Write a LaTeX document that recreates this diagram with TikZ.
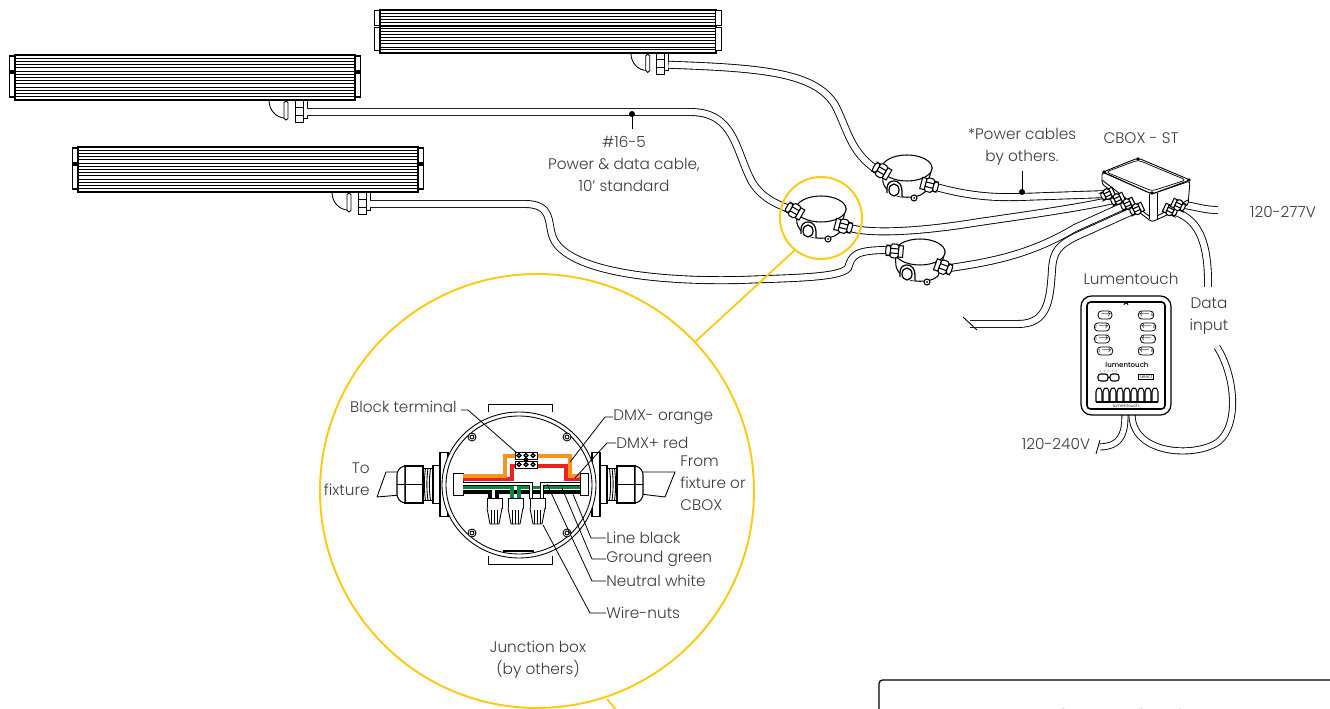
\documentclass[tikz,border=0pt]{standalone}
\usepackage{fontspec}
\setmainfont{Poppins}[UprightFont=* Light,BoldFont=* Medium]
\definecolor{lampyellow}{HTML}{FDC913}
\definecolor{wireorange}{HTML}{F7941D}
\definecolor{wirered}{HTML}{ED2024}
\definecolor{wiregreen}{HTML}{0B8A3E}
\definecolor{textgray}{HTML}{3A3A3A}
\tikzset{
  lbl/.style={text=textgray,inner sep=0pt,font=\fontsize{8.7}{12.4}\selectfont},
  cable/.style={draw,line width=.5pt,double=white,double distance=3.5pt},
  thin line/.style={line width=.5pt},
  leader/.style={line width=.45pt},
  wire/.style={line width=1.8pt,preaction={draw=white,line width=2.8pt}},
  keybtn/.style={draw,line width=.45pt,rounded corners=2,minimum width=7.5pt,minimum height=4.6pt,inner sep=0pt,font=\fontsize{2.5}{3}\selectfont},
  gland/.pic={
    \draw[line width=.6pt,fill=white] (-7,-5) rectangle (-3,5);
    \draw[line width=.6pt,fill=white,rounded corners=1] (-3,-6) rectangle (4,6);
    \draw[line width=.6pt] (-3,-2) -- (4,-2) (-3,2) -- (4,2);
    \draw[line width=.6pt,fill=white,rounded corners=1.5] (4,-4.5) rectangle (8,4.5);
  },
  bigend/.pic={
    \draw[line width=.6pt,fill=white] (0,-32) rectangle (-8,32);
    \draw[line width=.6pt,fill=white] (-8,-19) rectangle (-15,19);
    \draw[line width=.6pt,fill=white] (-15,-16) rectangle (-25,16);
    \foreach \x in {-17.5,-20,-22.5}
      \draw[thin line] (\x,-16) .. controls (\x-1.5,-5) and (\x-1.5,5) .. (\x,16);
    \draw[line width=.6pt,fill=white] (-25,-18.5) rectangle (-43,18.5);
    \draw[line width=.6pt,fill=white] (-43,-18.5) .. controls (-49,-18) and (-51,-12) .. (-51,-10) -- (-51,10) .. controls (-51,12) and (-49,18) .. (-43,18.5) -- cycle;
    \draw[thin line] (-25,0) -- (-51,0);
  },
  jbox/.pic={
    \draw[line width=.6pt,fill=white] (-25,0) -- (-24,14) .. controls (-22,24) and (-10,29) .. (-4,29) .. controls (6,30) and (14,28) .. (18,24) -- (25,0) -- cycle;
    \draw[line width=.6pt,fill=white] (0,0) ellipse (25 and 13);
    \draw[line width=.7pt,fill=white] (-20,25) .. controls (-21,14) and (-16,13) .. (-13,13) .. controls (-9,13) and (-4,15) .. (-5,29);
    \draw[line width=.7pt,fill=white] (-13,22) ellipse (5 and 6);
    \draw[line width=.6pt,fill=white] (7,30) circle (3);
    \fill (7,30) circle (1);
  },
  fixture/.pic={
    \draw[line width=.8pt,fill=white] (0,0) rectangle (340,45);
    \foreach \y in {3.2,6.4,...,38.5}
      \draw[line width=.35pt] (0,\y) -- (340,\y);
    \draw[line width=.8pt] (0,16.5) -- (340,16.5);
    \draw[line width=.6pt] (0,41.5) -- (340,41.5);
    \foreach \x in {-5.5,340} {
      \draw[line width=.6pt,fill=white] (\x,1) rectangle ++(5.5,15);
      \draw[line width=.6pt,fill=white] (\x,18) rectangle ++(5.5,24);
    }
    \draw[thin line] (254,45) .. controls (254,56) and (262,63) .. (270,63);
    \draw[thin line,fill=white,rounded corners=1] (269,46) rectangle (273,65);
    \draw[thin line,fill=white] (280,45) rectangle (288,67);
    \draw[thin line] (280,52) -- (288,52) (280,60) -- (288,60);
    \draw[thin line,fill=white] (288,45) rectangle (292,63);
    \coordinate (-out) at (292,57);
  },
}
\begin{document}
\begin{tikzpicture}[x=.02cm,y=-.02cm]
  \useasboundingbox (0,0) rectangle (1330,709);

  % fixtures
  \pic[xscale=.988,yscale=.96] (fixa) at (380,10) {fixture};
  \pic (fixb) at (15,55) {fixture};
  \pic (fixc) at (78,147) {fixture};

  \coordinate (boxaleft) at (790,209);
  \coordinate (boxaright) at (850,228);
  \coordinate (boxbleft) at (877,170);
  \coordinate (boxbright) at (936,187);
  \coordinate (boxcleft) at (889,250);
  \coordinate (boxcright) at (950,268);
  \coordinate (cboxa) at (1108,194);
  \coordinate (cboxb) at (1118,199);
  \coordinate (cboxc) at (1128,204);
  \coordinate (cboxd) at (1137,209);
  \coordinate (cboxe) at (1170,210);
  \coordinate (cboxf) at (1178,205);

  % cables
  \draw[cable] (fixa-out) .. controls (760,68) and (815,72) .. (835,105) .. controls (848,130) and (850,152) .. (boxbleft);
  \draw[cable] (fixb-out) -- (690,112) .. controls (735,112) and (735,150) .. (752,182) .. controls (760,195) and (772,203) .. (boxaleft);
  \draw[cable] (fixc-out) -- (525,204) .. controls (552,204) and (548,222) .. (552,235) .. controls (562,270) and (650,282) .. (740,280) .. controls (790,278) and (840,278) .. (848,268) .. controls (852,255) and (855,250) .. (boxcleft);
  \draw[cable] (boxbright) .. controls (965,195) and (990,198) .. (1020,197) -- (cboxa);
  \draw[cable] (boxaright) .. controls (875,235) and (930,230) .. (973,223) .. controls (1020,216) and (1080,208) .. (cboxb);
  \draw[cable] (boxcright) .. controls (990,262) and (1030,255) .. (1075,228) -- (cboxc);
  \coordinate (freeend) at (970,324);
  \draw[cable] (freeend) -- (1018,324) .. controls (1048,324) and (1050,300) .. (1052,270) .. controls (1053,250) and (1060,245) .. (1075,237) -- (cboxd);
  \draw[thin line] (963,317) -- (977,330);
  \coordinate (mainsend) at (1218,210);
  \draw[cable] (cboxf) .. controls (1190,204) and (1200,210) .. (mainsend);
  \coordinate (dataend) at (1208,287);
  \draw[cable] (cboxe) .. controls (1190,216) and (1209,228) .. (dataend);

  % junction boxes
  \pic at (821,209) {jbox};
  \pic at (907,168) {jbox};
  \pic at (920,252) {jbox};
  \pic[rotate=150,scale=1.15] at (795,211) {gland};
  \pic[rotate=-15,scale=1.15] at (843,226) {gland};
  \pic[rotate=150,scale=1.15] at (882,171) {gland};
  \pic[rotate=-15,scale=1.15] at (929,185) {gland};
  \pic[rotate=175,scale=1.15] at (895,251) {gland};
  \pic[rotate=-20,scale=1.15] at (943,267) {gland};

  % CBOX
  \draw[thin line,fill=white,rounded corners=1.5] (1102,172) -- (1102,184) -- (1152,222) -- (1188,205) -- (1190,181) -- (1152,194) -- cycle;
  \draw[thin line] (1102,180) -- (1149,216) (1157,216) -- (1188,200);
  \draw[thin line,fill=white,rounded corners=2] (1103,172) -- (1138,158) -- (1190,180) -- (1152,194) -- cycle;
  \draw[line width=.4pt,rounded corners=2] (1106,172) -- (1138,160) -- (1186,180) -- (1152,191) -- cycle;
  \draw[thin line] (1149,194) -- (1149,219) (1157,193) -- (1157,219);
  \foreach \x/\y in {1104/172,1138/159,1189/180,1152/193}
    \fill (\x,\y) circle (1.8);
  \foreach \p in {cboxa,cboxb,cboxc,cboxd}
    \pic[rotate=205,scale=.9] at (\p) {gland};
  \pic[rotate=-25,scale=.9] at (cboxe) {gland};
  \pic[rotate=-25,scale=.9] at (cboxf) {gland};

  % lumentouch
  \coordinate (powerend) at (1100,447);
  \draw[cable,double distance=3pt] (1125,412) .. controls (1125,430) and (1124,446) .. (powerend);
  \draw[thin line] (1096,454) -- (1100,440);
  \coordinate (datastart) at (1217,347);
  \draw[cable,double distance=3pt] (datastart) .. controls (1235,375) and (1240,425) .. (1218,442) .. controls (1195,458) and (1130,455) .. (1132,412);
  \draw[line width=.7pt,fill=white,rounded corners=6] (1081,296) rectangle (1171,415);
  \draw[line width=.9pt,rounded corners=2] (1087,302) rectangle (1165,409);
  \draw[thin line] (1124,305) arc (180:360:2);
  \foreach \n/\x/\y in {1/1105/315,2/1102/327,3/1102/339,4/1105/351}
    \node[keybtn] (btn\n) at (\x,\y) {\n\,$\to$};
  \foreach \n/\x/\y in {5/1146/315,6/1148/327,7/1148/339,8/1146/351}
    \node[keybtn] (btn\n) at (\x,\y) {$\gets$\,\n};
  \node[inner sep=0pt,font=\bfseries\fontsize{4}{4}\selectfont] (wordmark) at (1127,364.5) {lumentouch};
  \foreach \x in {1100,1104,...,1116}
    \fill (\x,371) circle (.5);
  \draw[line width=.6pt,rounded corners=1.5] (1098,374) rectangle (1108,381) (1110,374) rectangle (1119,381);
  \draw[thin line] (1108,377.5) -- (1110,377.5);
  \node[draw,line width=.5pt,inner sep=.7pt,font=\fontsize{2.5}{3}\selectfont] (selectkey) at (1146,377) {select};
  \foreach \x in {1096,1103,...,1152}
    \draw[line width=.6pt,fill=white,rounded corners=1] (\x,402) -- (\x,390) -- ++(3,-3) -- ++(3,3) -- ++(0,12);
  \draw[line width=.8pt] (1096,402) -- (1158,402);
  \node[inner sep=0pt,font=\fontsize{2.5}{3}\selectfont] (footmark) at (1126,406) {lumentouch};

  % detail circles
  \coordinate (spokea) at (795,250);
  \coordinate (spokeb) at (695,342);
  \coordinate (spokec) at (607,699);
  \coordinate (spoked) at (618,712);
  \draw[lampyellow,line width=1pt] (spokea) -- (spokeb) (spokec) -- (spoked);
  \draw[lampyellow,line width=1.1pt] (821,218) circle (41);
  \draw[lampyellow,line width=1.1pt] (537,491) circle (217);

  % opened junction box
  \draw[thin line,fill=white] (488,412) -- (488,404) -- (552,404) -- (552,412);
  \draw[thin line,fill=white] (488,556) -- (488,564) -- (552,564) -- (552,556);
  \coordinate (stubleft) at (386,472);
  \coordinate (stubright) at (675,472);
  \draw[thin line] (377,497) -- (stubleft) -- (400,472) (377,497) -- (400,495);
  \draw[thin line] (665,497) -- (stubright) -- (640,472) (665,497) -- (640,494);
  \pic at (448,484.5) {bigend};
  \pic[xscale=-1] at (592,484.5) {bigend};
  \draw[thin line,fill=white] (519,485) ellipse (77 and 73);
  \draw[thin line] (519,485) ellipse (73 and 69);
  \foreach \x/\y in {472/437,567/437,472/533,567/533} {
    \draw[thin line,fill=white] (\x,\y) circle (4);
    \draw[thin line] (\x,\y) circle (2);
  }
  \draw[line width=1.1pt] (503,551) -- (534,551);
  \draw[thin line,fill=white] (453,473) rectangle (463,495);
  \draw[thin line,fill=white] (580,473) rectangle (588,495);

  % wires
  \draw[wire,black] (463,492) -- (490,492) -- (490,499);
  \draw[wire,black] (497,499) -- (497,492) -- (580,492);
  \draw[wire,wiregreen] (463,487.5) -- (512,487.5) -- (512,499);
  \draw[wire,wiregreen] (519,499) -- (519,487.5) -- (580,487.5);
  \draw[line width=2.2pt] (463,484) -- (531,484) -- (531,499);
  \draw[line width=2.2pt] (542,499) -- (542,484) -- (580,484);
  \draw[line width=1.3pt,white] (463,484) -- (531,484) -- (531,499);
  \draw[line width=1.3pt,white] (542,499) -- (542,484) -- (580,484);
  \draw[wire,wirered] (463,479) -- (512,479) -- (512,466) -- (566,466) -- (566,479) -- (580,479);
  \draw[wire,wireorange] (463,476) -- (505,476) -- (505,456) -- (570,456) -- (570,476) -- (580,476);

  % block terminal
  \draw[thin line,fill=white] (515,452) rectangle (537,459) (515,461) rectangle (537,468);
  \foreach \x in {519,526,533} {
    \draw[line width=.8pt] (\x,455.5) circle (1.8) (\x,464.5) circle (1.8);
  }
  \fill (526,460) circle (2.5);

  % wire nuts
  \foreach \x in {487,508,530} {
    \draw[thin line,fill=white] (\x,498) rectangle ++(15,10);
    \draw[thin line,fill=white] (\x,508) -- ++(3,16) -- ++(9,0) -- ++(3,-16);
    \foreach \k in {4.5,7.5,10.5}
      \draw[line width=.45pt] (\x+\k,510) -- (\x+\k,524);
  }

  % labels on the inset
  \node[lbl,anchor=east] (terminallbl) at (457,407) {Block terminal};
  \node[lbl,anchor=west] (orangelbl) at (613,417) {DMX- orange};
  \node[lbl,anchor=west] (redlbl) at (616,443) {DMX+ red};
  \node[lbl,anchor=east,align=right] (tolbl) at (370,479) {To\\fixture};
  \node[lbl,anchor=west,align=left] (fromlbl) at (680,483) {From\\fixture or\\CBOX};
  \node[lbl,anchor=west] (linelbl) at (606,538) {Line black};
  \node[lbl,anchor=west] (groundlbl) at (606,559) {Ground green};
  \node[lbl,anchor=west] (neutrallbl) at (606,581) {Neutral white};
  \node[lbl,anchor=west] (nutslbl) at (606,613) {Wire-nuts};
  \node[lbl,align=center] (boxlbl) at (538,660) {Junction box\\(by others)};

  \coordinate (terminalpt) at (517,453);
  \coordinate (orangept) at (570,462);
  \coordinate (redpt) at (575,478);
  \coordinate (linept) at (573,494);
  \coordinate (groundpt) at (562,488);
  \coordinate (neutralpt) at (547,484);
  \coordinate (nutspt) at (543,525);
  \draw[leader] (terminallbl.east) ++(4,3) -- ++(7,0) -- (terminalpt);
  \draw[leader] (orangelbl.west) -- ++(-8,0) -- (orangept);
  \draw[leader] (redlbl.west) -- ++(-9,0) -- (redpt);
  \draw[leader] (linelbl.west) -- ++(-15,0) -- (linept);
  \draw[leader] (groundlbl.west) -- ++(-14,0) -- (groundpt);
  \draw[leader] (neutrallbl.west) -- ++(-14,0) -- (neutralpt);
  \draw[leader] (nutslbl.west) -- ++(-16,0) -- (nutspt);

  % labels on the layout
  \node[lbl,align=center] (cablelbl) at (624,164) {\#16-5\\Power \& data cable,\\10’ standard};
  \node[lbl,align=center] (powerlbl) at (1022,147) {*Power cables\\by others.};
  \node[lbl] (cboxlbl) at (1141,138) {CBOX - ST};
  \node[lbl] (mainslbl) at (1283,212) {120-277V};
  \node[lbl] (touchlbl) at (1131,279) {Lumentouch};
  \node[lbl,align=center] (datalbl) at (1209,316) {Data\\input};
  \node[lbl] (feedlbl) at (1056,444) {120-240V};

  \coordinate (cabledot) at (632,114);
  \coordinate (powerdot) at (1022,192);
  \fill (cabledot) circle (3);
  \fill (powerdot) circle (3);
  \draw[leader] (cabledot) -- (632,129);
  \draw[leader] (powerdot) -- (1022,171);

  % table box, cut by the page
  \begin{scope}
    \clip (0,0) rectangle (1330,709);
    \draw[line width=.7pt,rounded corners=2] (879,730) -- (879,680) -- (1340,680);
    \node[lbl] (tablelbl) at (1110,717) {Maximum run length};
  \end{scope}
\end{tikzpicture}
\end{document}
